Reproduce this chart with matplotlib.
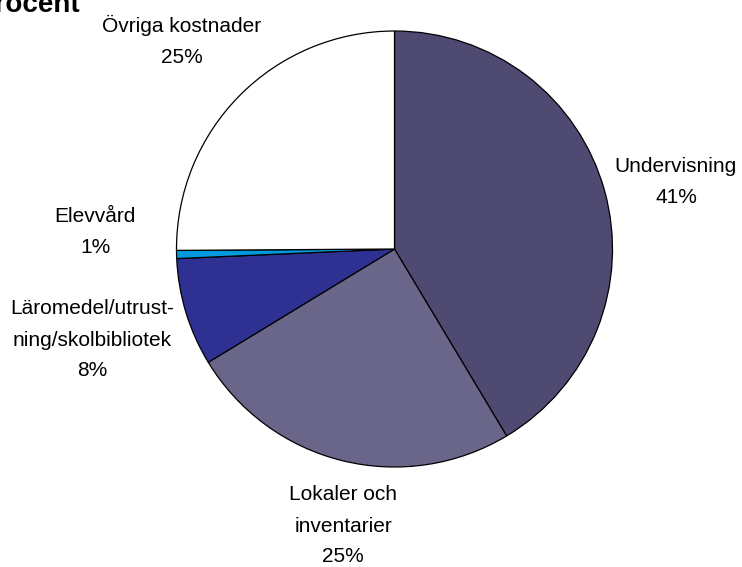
import numpy as np
import matplotlib.pyplot as plt

plt.rcParams['font.family'] = ['Liberation Sans', 'DejaVu Sans']

# Data
kategorier = ['Undervisning', 'Lokaler och\ninventarier', 'Läromedel/utrust-\nning/skolbibliotek',
              'Elevvård', 'Övriga kostnader']
andel = [41.4, 24.9, 8.0, 0.6, 25.1]
farger = ['#4F4A72', '#69668A', '#2E3192', '#0099DD', '#FFFFFF']

# label centres in pixels (x, y from top)
etikett_pos = [(676, 182), (343, 526), (92, 340), (95, 232), (182, 41)]

W, H = 742, 567
cx, cy, r = 394.5, 249, 218

fig = plt.figure(figsize=(W / 100, H / 100), dpi=100)
ax = fig.add_axes([0, 0, 1, 1])

ax.pie(andel, colors=farger, startangle=90, counterclock=False, radius=1,
       wedgeprops=dict(edgecolor='black', linewidth=0.9))

ax.set_xlim(-cx / r, (W - cx) / r)
ax.set_ylim(-(H - cy) / r, cy / r)
ax.set_aspect('auto')
ax.axis('off')

for namn, v, (px, py) in zip(kategorier, andel, etikett_pos):
    fig.text(px / W, 1 - py / H, f"{namn}\n{v:.0f}%", ha='center', va='center',
             fontsize=15, linespacing=1.8, multialignment='center')

# titel, avklippt i överkanten
fig.text(80 / W, 1 - 12 / H, 'Procent', ha='right', va='baseline',
         fontsize=20, fontweight='bold')

fig.savefig('out.png', dpi=100)
